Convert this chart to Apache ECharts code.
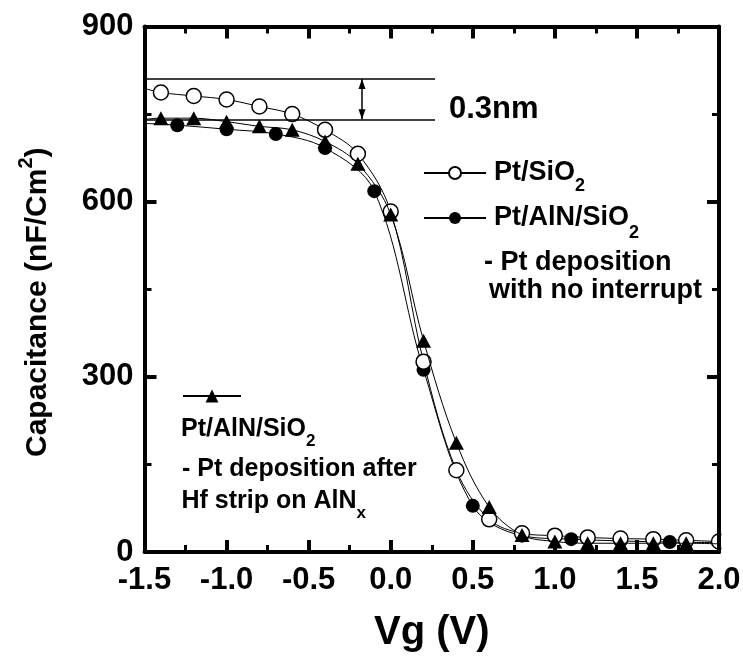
<!DOCTYPE html>
<html>
<head>
<meta charset="utf-8">
<script src="https://cdn.jsdelivr.net/npm/echarts@6/dist/echarts.min.js"></script>
<style>html,body{margin:0;padding:0;background:#fff}#c{width:743px;height:659px}</style>
</head>
<body>
<div id="c"></div>
<script>
// ---- data ----
const vgOpen    = [-1.5, -1.4, -1.2, -1.0, -0.8, -0.6, -0.4, -0.2, 0.0, 0.2, 0.4, 0.6, 0.8, 1.0, 1.2, 1.4, 1.6, 1.8, 2.0];
const capOpen   = [794, 787, 781, 775, 763, 750, 723, 682, 583, 326, 140, 56, 32, 28, 25, 23, 22, 20, 18];
const vgFilled  = [-1.5, -1.3, -1.0, -0.7, -0.4, -0.1, 0.2, 0.5, 0.8, 1.1, 1.4, 1.7, 2.0];
const capFilled = [734, 731, 724, 716, 692, 618, 312, 79, 28, 22, 19, 17, 16];
const vgTri     = [-1.5, -1.4, -1.2, -1.0, -0.8, -0.6, -0.4, -0.2, 0.0, 0.2, 0.4, 0.6, 0.8, 1.0, 1.2, 1.4, 1.6, 1.8, 2.0];
const capTri    = [741, 743, 743, 737, 729, 723, 703, 665, 578, 362, 187, 77, 29, 18, 15, 15, 15, 15, 14];
// curve-only points (no marker)
const fitOnlyOpen   = [-1.5];
const fitOnlyFilled = [-1.5];
const fitOnlyTri    = [-1.5, 2.0];
// 0.3 nm annotation
const gapLevels = [810, 741];
const gapLineVg = [-1.5, 0.27];
const arrowVg = -0.175;
// axes
const xRange = [-1.5, 2.0];
const yRange = [0, 900];

const FONT = '"Liberation Sans", Arial, Helvetica, sans-serif';

function mk(vg, cap, fitOnly) {
  return vg.map((v, i) => fitOnly.includes(v) ? { value: [v, cap[i]], symbol: 'none' } : [v, cap[i]]);
}
function subRich(f, s, d) {
  const L = 2 * (d + s);
  return {
    a: { fontSize: f, fontWeight: 'bold', fontFamily: FONT, color: '#000', lineHeight: L, verticalAlign: 'middle' },
    s: { fontSize: s, fontWeight: 'bold', fontFamily: FONT, color: '#000', lineHeight: s, verticalAlign: 'top', padding: [L / 2 + d - s / 2, 0, 0, 0] }
  };
}
function axisBase(extra) {
  return Object.assign({
    type: 'value',
    axisLine: { show: true, onZero: false, lineStyle: { color: '#000', width: 4 } },
    axisTick: { show: true, inside: true, length: 12, lineStyle: { color: '#000', width: 4 } },
    minorTick: { show: true, splitNumber: 2, length: 7, lineStyle: { color: '#000', width: 3 } },
    splitLine: { show: false },
    minorSplitLine: { show: false },
    nameMoveOverlap: false
  }, extra);
}
const tickFont = { color: '#000', fontSize: 31, fontWeight: 'bold', fontFamily: FONT };

const chart = echarts.init(document.getElementById('c'), null, { renderer: 'canvas' });
const option = {
  animation: false,
  backgroundColor: '#fff',
  grid: { left: 144.5, right: 24, top: 26.5, bottom: 107, containLabel: false, outerBoundsMode: 'none' },
  xAxis: [
    axisBase({
      position: 'bottom', min: xRange[0], max: xRange[1], interval: 0.5, z: 20,
      axisLabel: Object.assign({ show: true, margin: 13, showMinLabel: true, showMaxLabel: true, formatter: v => v.toFixed(1) }, tickFont),
      name: 'Vg (V)', nameLocation: 'middle', nameGap: 61,
      nameTextStyle: { color: '#000', fontSize: 40, fontWeight: 'bold', fontFamily: FONT }
    }),
    axisBase({ position: 'top', min: xRange[0], max: xRange[1], interval: 0.5, axisLabel: { show: false }, z: 20 })
  ],
  yAxis: [
    axisBase({
      position: 'left', min: yRange[0], max: yRange[1], interval: 300, z: 20,
      axisLabel: Object.assign({ show: true, margin: 11, showMinLabel: true, showMaxLabel: true }, tickFont),
      name: '{a|Capacitance (nF/Cm}{s|2}{a|)}', nameLocation: 'middle', nameGap: 86, nameRotate: 90,
      nameTextStyle: {
        color: '#000', fontSize: 30, fontWeight: 'bold', fontFamily: FONT, padding: [0, 26, 0, 0],
        rich: {
          a: { fontSize: 30, fontWeight: 'bold', fontFamily: FONT, color: '#000', lineHeight: 42, verticalAlign: 'middle' },
          s: { fontSize: 20, fontWeight: 'bold', fontFamily: FONT, color: '#000', lineHeight: 20, verticalAlign: 'top' }
        }
      }
    }),
    axisBase({ position: 'right', min: yRange[0], max: yRange[1], interval: 300, axisLabel: { show: false }, z: 20 })
  ],
  legend: [
    {
      left: 423, top: 142, orient: 'vertical', padding: 0, itemGap: 0, itemWidth: 62, itemHeight: 15,
      selectedMode: false, data: ['Pt/SiO2'],
      formatter: () => '{a|Pt/SiO}{s|2}',
      textStyle: { color: '#000', padding: [0, 0, 0, 3], rich: subRich(27, 18, 13) }
    },
    {
      left: 423, top: 185, orient: 'vertical', padding: 0, itemGap: 0, itemWidth: 62, itemHeight: 15,
      selectedMode: false, data: ['Pt/AlN/SiO2 - no interrupt'],
      formatter: () => '{a|Pt/AlN/SiO}{s|2}',
      textStyle: { color: '#000', padding: [0, 0, 0, 3], rich: subRich(27, 18, 15) }
    },
    {
      left: 182, top: 388, orient: 'vertical', padding: 0, itemGap: 0, itemWidth: 58, itemHeight: 16,
      selectedMode: false, data: ['Pt/AlN/SiO2 - after Hf strip'],
      formatter: () => '',
      textStyle: { color: '#000', fontSize: 10 }
    }
  ],
  series: [
    {
      type: 'line', name: 'Pt/AlN/SiO2 - no interrupt', z: 2,
      data: mk(vgFilled, capFilled, fitOnlyFilled),
      smooth: 0.35, symbol: 'circle', symbolSize: 14, showSymbol: true, showAllSymbol: true, clip: false,
      lineStyle: { color: '#000', width: 1 }, itemStyle: { color: '#000' }, emphasis: { disabled: true }
    },
    {
      type: 'line', name: 'Pt/SiO2', z: 3,
      data: mk(vgOpen, capOpen, fitOnlyOpen),
      smooth: 0.35, symbol: 'circle', symbolSize: 15, showSymbol: true, showAllSymbol: true, clip: false,
      lineStyle: { color: '#000', width: 1 }, itemStyle: { color: '#fff', borderColor: '#000', borderWidth: 1.5 }, emphasis: { disabled: true }
    },
    {
      type: 'line', name: 'Pt/AlN/SiO2 - after Hf strip', z: 4,
      data: mk(vgTri, capTri, fitOnlyTri),
      smooth: 0.35, symbol: 'triangle', symbolSize: [15, 14], showSymbol: true, showAllSymbol: true, clip: false,
      lineStyle: { color: '#000', width: 1 }, itemStyle: { color: '#000' }, emphasis: { disabled: true }
    },
    {
      type: 'line', name: 'gap', data: [], z: 5, silent: true,
      markLine: {
        silent: true, animation: false, symbol: 'none',
        label: { show: false }, emphasis: { disabled: true },
        lineStyle: { color: '#000', width: 1.5, type: 'solid' },
        data: [
          [{ coord: [gapLineVg[0], gapLevels[0]] }, { coord: [gapLineVg[1], gapLevels[0]] }],
          [{ coord: [gapLineVg[0], gapLevels[1]] }, { coord: [gapLineVg[1], gapLevels[1]] }],
          [{ coord: [arrowVg, gapLevels[0]] }, { coord: [arrowVg, gapLevels[1]] }]
        ]
      },
      markPoint: {
        silent: true, animation: false, label: { show: false }, emphasis: { disabled: true },
        itemStyle: { color: '#000' },
        data: [
          { coord: [arrowVg, gapLevels[0]], symbol: 'triangle', symbolSize: [7, 10], symbolOffset: [0, 5] },
          { coord: [arrowVg, gapLevels[1]], symbol: 'triangle', symbolSize: [7, 10], symbolRotate: 180, symbolOffset: [0, -5] }
        ]
      }
    }
  ],
  graphic: [
    { type: 'rect', z: 8, silent: true, shape: { x: 721.5, y: 30, width: 30, height: 520 }, style: { fill: '#fff' } },
    { type: 'text', z: 10, style: { text: '0.3nm', x: 449, y: 109, verticalAlign: 'middle', align: 'left', fill: '#000', font: 'bold 31px ' + FONT } },
    { type: 'text', z: 10, style: { text: '- Pt deposition', x: 484, y: 262.5, verticalAlign: 'middle', align: 'left', fill: '#000', font: 'bold 27px ' + FONT } },
    { type: 'text', z: 10, style: { text: 'with no interrupt', x: 489, y: 290.5, verticalAlign: 'middle', align: 'left', fill: '#000', font: 'bold 27px ' + FONT } },
    { type: 'text', z: 10, style: { text: '{a|Pt/AlN/SiO}{s|2}', rich: subRich(25, 17, 12), x: 181, y: 429, verticalAlign: 'middle', align: 'left', fill: '#000' } },
    { type: 'text', z: 10, style: { text: '- Pt deposition after', x: 182, y: 469.5, verticalAlign: 'middle', align: 'left', fill: '#000', font: 'bold 25px ' + FONT } },
    { type: 'text', z: 10, style: { text: '{a|Hf strip on AlN}{s|x}', rich: subRich(25, 17, 13), x: 181.5, y: 500.7, verticalAlign: 'middle', align: 'left', fill: '#000' } }
  ]
};
chart.setOption(option);
</script>
</body>
</html>
